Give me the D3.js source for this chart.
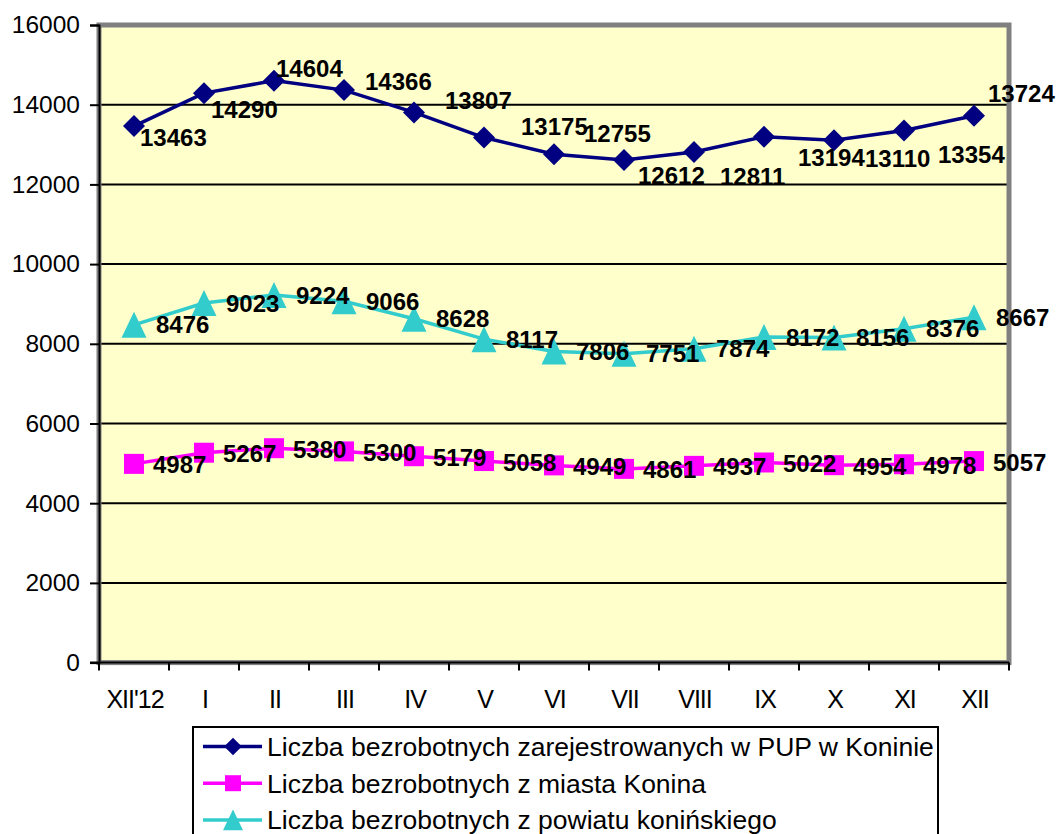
<!DOCTYPE html>
<html>
<head>
<meta charset="utf-8">
<script src="https://cdn.jsdelivr.net/npm/d3@7"></script>
<style>
    body { margin: 0; background: #ffffff; }
    svg { display: block; font-family: "Liberation Sans", Arial, sans-serif; }
</style>
</head>
<body>
<div id="chart"></div>
<script>
// months, Dec 2012 through Dec 2013
const months = ["XII'12", "I", "II", "III", "IV", "V", "VI", "VII", "VIII", "IX", "X", "XI", "XII"]
const total = [13463, 14290, 14604, 14366, 13807, 13175, 12755, 12612, 12811, 13194, 13110, 13354, 13724]
const city = [4987, 5267, 5380, 5300, 5179, 5058, 4949, 4861, 4937, 5022, 4954, 4978, 5057]
const county = [8476, 9023, 9224, 9066, 8628, 8117, 7806, 7751, 7874, 8172, 8156, 8376, 8667]
const yTicks = [0, 2000, 4000, 6000, 8000, 10000, 12000, 14000, 16000]
const seriesNames = [
    "Liczba bezrobotnych zarejestrowanych w PUP w Koninie",
    "Liczba bezrobotnych z miasta Konina",
    "Liczba bezrobotnych z powiatu konińskiego"
]

// labels of the total line were dragged around by hand in the original
const totalLabelShift = [[6, 11], [7, 16], [2, -12], [21, -9], [31, -12], [37, -11], [30, -21],
    [14, 15], [26, 24], [34, 21], [31, 18], [34, 24], [14, -22]]

const width = 1058
const height = 834
const plot = { left: 99, right: 1009, top: 25, bottom: 662.6 }

const svg = d3.select("#chart")
    .append("svg")
    .attr("width", width)
    .attr("height", height)

const x = d3.scaleBand().domain(months).range([plot.left, plot.right])
const y = d3.scaleLinear().domain([0, 16000]).range([plot.bottom, plot.top])
const cx = d => x(d) + x.bandwidth() / 2

// plot area
svg.append("rect")
    .attr("x", plot.left)
    .attr("y", plot.top)
    .attr("width", plot.right - plot.left)
    .attr("height", plot.bottom - plot.top)
    .style("fill", "#ffffcc")

svg.selectAll(".grid")
    .data(yTicks.filter(d => d > 0 && d < 16000))
    .enter()
    .append("line")
    .attr("class", "grid")
    .attr("x1", plot.left)
    .attr("x2", plot.right)
    .attr("y1", d => y(d))
    .attr("y2", d => y(d))
    .style("stroke", "#000")
    .style("stroke-width", 2)

svg.append("rect")
    .attr("x", plot.left)
    .attr("y", plot.top)
    .attr("width", plot.right - plot.left)
    .attr("height", plot.bottom - plot.top)
    .style("fill", "none")
    .style("stroke", "#808080")
    .style("stroke-width", 5)

// y axis
const yAxis = svg.append("g")
    .attr("transform", `translate(${plot.left},0)`)
    .call(d3.axisLeft(y).tickValues(yTicks).tickSize(9).tickPadding(10).tickFormat(d => d))
yAxis.select(".domain").style("stroke", "#000").style("stroke-width", 2)
yAxis.selectAll(".tick line").style("stroke", "#000").style("stroke-width", 2)
yAxis.selectAll(".tick text")
    .style("font-size", "24.5px")
    .style("font-family", "'Liberation Sans', Arial, sans-serif")
    .style("fill", "#000")

// x axis, ticks sit between the months
svg.append("line")
    .attr("x1", plot.left - 9)
    .attr("x2", plot.right)
    .attr("y1", plot.bottom)
    .attr("y2", plot.bottom)
    .style("stroke", "#000")
    .style("stroke-width", 2)
svg.selectAll(".xtick")
    .data(months.map(d => x(d)).concat([plot.right]))
    .enter()
    .append("line")
    .attr("class", "xtick")
    .attr("x1", d => d)
    .attr("x2", d => d)
    .attr("y1", plot.bottom)
    .attr("y2", plot.bottom + 8)
    .style("stroke", "#000")
    .style("stroke-width", 2)
svg.selectAll(".xlabel")
    .data(months)
    .enter()
    .append("text")
    .attr("class", "xlabel")
    .text(d => d)
    .attr("x", d => cx(d) + 1)
    .attr("y", 708)
    .attr("text-anchor", "middle")
    .style("font-size", "25px")
    .style("letter-spacing", "-1px")

// markers
function diamond(s) {
    return `M0,${-s}L${s},0L0,${s}L${-s},0Z`
}
function square(s) {
    return `M${-s},${-s}H${s}V${s}H${-s}Z`
}
function triangle(s) {
    return `M0,${-s * 1.04}L${s},${s * 1.04}L${-s},${s * 1.04}Z`
}

const series = [
    { name: seriesNames[0], values: total, color: "#000080", shape: diamond, size: 11 },
    { name: seriesNames[1], values: city, color: "#ff00ff", shape: square, size: 10 },
    { name: seriesNames[2], values: county, color: "#33cccc", shape: triangle, size: 12.5 }
]

const line = d3.line()
    .x((d, i) => cx(months[i]))
    .y(d => y(d))

series.forEach(s => {
    svg.append("path")
        .datum(s.values)
        .attr("d", line)
        .style("fill", "none")
        .style("stroke", s.color)
        .style("stroke-width", 3.5)
    svg.selectAll(null)
        .data(s.values)
        .enter()
        .append("path")
        .attr("d", s.shape(s.size))
        .attr("transform", (d, i) => `translate(${cx(months[i])},${y(d)})`)
        .style("fill", s.color)
})

// data labels
const labelSize = 24
const capHalf = labelSize * 0.358
function addLabels(values, shift) {
    svg.selectAll(null)
        .data(values)
        .enter()
        .append("text")
        .text(d => d)
        .attr("x", (d, i) => cx(months[i]) + shift(i)[0])
        .attr("y", (d, i) => y(d) + shift(i)[1] + capHalf)
        .style("font-size", labelSize + "px")
        .style("font-weight", "bold")
        .style("fill", "#000")
}
addLabels(total, i => totalLabelShift[i])
addLabels(city, i => [19, 1])
addLabels(county, i => [22, 0])

// legend
const legend = svg.append("g").attr("transform", "translate(193,727)")
legend.append("rect")
    .attr("width", 745)
    .attr("height", 130)
    .style("fill", "#fff")
    .style("stroke", "#000")
    .style("stroke-width", 2)
const rows = legend.selectAll(".legend-row")
    .data(series)
    .enter()
    .append("g")
    .attr("class", "legend-row")
    .attr("transform", (d, i) => `translate(0,${19.5 + i * 36.7})`)
rows.append("line")
    .attr("x1", 10)
    .attr("x2", 69)
    .style("stroke", d => d.color)
    .style("stroke-width", 3.5)
rows.append("path")
    .attr("d", d => d.shape(d.size * 0.8))
    .attr("transform", "translate(40,0)")
    .style("fill", d => d.color)
rows.append("text")
    .text(d => d.name)
    .attr("x", 74)
    .attr("y", 26.5 * 0.358)
    .style("font-size", "26.5px")
    .style("fill", "#000")
</script>
</body>
</html>
